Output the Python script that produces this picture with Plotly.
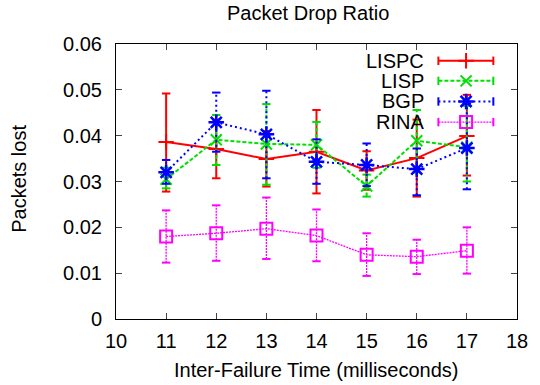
import plotly.graph_objects as go

x = [11, 12, 13, 14, 15, 16, 17]

lispc_mean = [0.0386, 0.0371, 0.0349, 0.0365, 0.0324, 0.0351, 0.0399]
lispc_lo   = [0.0278, 0.0307, 0.0289, 0.0274, 0.0282, 0.0267, 0.0313]
lispc_hi   = [0.0492, 0.0435, 0.0410, 0.0456, 0.0366, 0.0435, 0.0489]

lisp_mean = [0.0305, 0.0391, 0.0382, 0.0380, 0.0290, 0.0389, 0.0375]
lisp_lo   = [0.0285, 0.0336, 0.0293, 0.0330, 0.0267, 0.0320, 0.0300]
lisp_hi   = [0.0330, 0.0445, 0.0469, 0.0430, 0.0315, 0.0456, 0.0465]

bgp_mean = [0.0320, 0.0429, 0.0403, 0.0343, 0.0336, 0.0327, 0.0373]
bgp_lo   = [0.0295, 0.0365, 0.0307, 0.0295, 0.0290, 0.0270, 0.0283]
bgp_hi   = [0.0347, 0.0494, 0.0498, 0.0392, 0.0383, 0.0372, 0.0470]

rina_mean = [0.0180, 0.0187, 0.0197, 0.0182, 0.0140, 0.0136, 0.0149]
rina_lo   = [0.0123, 0.0127, 0.0131, 0.0126, 0.0094, 0.0098, 0.0099]
rina_hi   = [0.0237, 0.0248, 0.0265, 0.0239, 0.0187, 0.0173, 0.0200]

names = ["LISPC", "LISP", "BGP", "RINA"]

FONT = "Liberation Sans"
FS = 20

series = [
    dict(name="LISPC", mean=lispc_mean, lo=lispc_lo, hi=lispc_hi, color="#ff0000",
         dash="solid", width=2, symbol="cross-thin", msize=11, mlw=2),
    dict(name="LISP", mean=lisp_mean, lo=lisp_lo, hi=lisp_hi, color="#00e000",
         dash="4px,2px", width=2, symbol="x-thin", msize=11, mlw=2),
    dict(name="BGP", mean=bgp_mean, lo=bgp_lo, hi=bgp_hi, color="#0000ff",
         dash="2px,3px", width=2, symbol="asterisk", msize=13, mlw=2.5),
    dict(name="RINA", mean=rina_mean, lo=rina_lo, hi=rina_hi, color="#ff00ff",
         dash="2px,1px", width=1.3, symbol="square-open", msize=12, mlw=2),
]

fig = go.Figure()

for s in series:
    # vertical error bars as dashed segments
    xs, ys = [], []
    for xi, lo, hi in zip(x, s["lo"], s["hi"]):
        xs += [xi, xi, None]
        ys += [lo, hi, None]
    fig.add_trace(go.Scatter(x=xs, y=ys, mode="lines", showlegend=False,
                             line=dict(color=s["color"], dash=s["dash"], width=s["width"]),
                             hoverinfo="skip"))
    # caps
    fig.add_trace(go.Scatter(x=x + x, y=s["lo"] + s["hi"], mode="markers", showlegend=False,
                             marker=dict(symbol="line-ew", size=6,
                                         line=dict(color=s["color"], width=2)),
                             hoverinfo="skip"))
    # main line with markers
    fig.add_trace(go.Scatter(x=x, y=s["mean"], mode="lines+markers", name=s["name"],
                             showlegend=False,
                             line=dict(color=s["color"], dash=s["dash"], width=s["width"]),
                             marker=dict(symbol=s["symbol"], size=s["msize"], color=s["color"],
                                         line=dict(color=s["color"], width=s["mlw"]))))

# custom gnuplot-style key on an overlay axis (paper-like 0..1)
key_y = [0.939, 0.866, 0.791, 0.716]
kx0, kx1, kxm = 0.804, 0.941, 0.873
for s, ky in zip(series, key_y):
    fig.add_trace(go.Scatter(x=[kx0, kx1], y=[ky, ky], mode="lines", xaxis="x2", yaxis="y2",
                             showlegend=False, hoverinfo="skip",
                             line=dict(color=s["color"], dash=s["dash"], width=s["width"])))
    fig.add_trace(go.Scatter(x=[kx0, kx1], y=[ky, ky], mode="markers", xaxis="x2", yaxis="y2",
                             showlegend=False, hoverinfo="skip",
                             marker=dict(symbol="line-ns", size=6,
                                         line=dict(color=s["color"], width=2))))
    fig.add_trace(go.Scatter(x=[kxm], y=[ky], mode="markers", xaxis="x2", yaxis="y2",
                             showlegend=False, hoverinfo="skip",
                             marker=dict(symbol=s["symbol"], size=s["msize"], color=s["color"],
                                         line=dict(color=s["color"], width=s["mlw"]))))
    fig.add_annotation(x=0.772, y=ky, xref="paper", yref="paper", text=s["name"],
                       showarrow=False, xanchor="right", yanchor="middle",
                       font=dict(family=FONT, size=FS, color="black"))

fig.update_layout(
    width=540, height=385,
    margin=dict(l=116, r=15, t=44, b=66),
    paper_bgcolor="white", plot_bgcolor="white",
    showlegend=False,
    font=dict(family=FONT, size=FS, color="black"),
    xaxis=dict(range=[10, 18], dtick=1, tick0=10, ticks="inside", ticklen=6,
               showline=True, linecolor="black", linewidth=1, mirror="allticks",
               showgrid=False, zeroline=False, ticklabelstandoff=4,
               tickfont=dict(family=FONT, size=FS)),
    yaxis=dict(range=[0, 0.06], dtick=0.01, tick0=0, ticks="inside", ticklen=6,
               showline=True, linecolor="black", linewidth=1, mirror="allticks",
               showgrid=False, zeroline=False, ticklabelstandoff=9,
               tickfont=dict(family=FONT, size=FS)),
    xaxis2=dict(overlaying="x", range=[0, 1], visible=False),
    yaxis2=dict(overlaying="y", range=[0, 1], visible=False),
)

fig.add_annotation(x=0.48, y=1.113, xref="paper", yref="paper", text="Packet Drop Ratio",
                   showarrow=False, xanchor="center", yanchor="middle",
                   font=dict(family=FONT, size=FS))
fig.add_annotation(x=0.5, y=-0.185, xref="paper", yref="paper",
                   text="Inter-Failure Time (milliseconds)",
                   showarrow=False, xanchor="center", yanchor="middle",
                   font=dict(family=FONT, size=FS))
fig.add_annotation(x=-0.241, y=0.511, xref="paper", yref="paper", text="Packets lost",
                   showarrow=False, xanchor="center", yanchor="middle", textangle=-90,
                   font=dict(family=FONT, size=FS))

fig.write_html("out.html")
